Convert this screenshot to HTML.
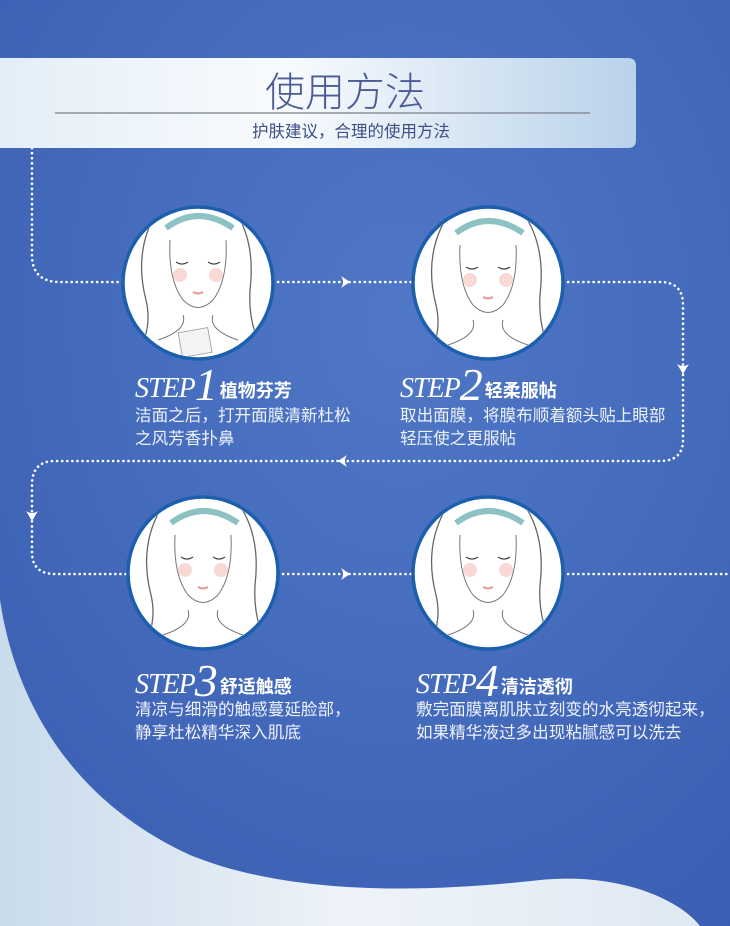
<!DOCTYPE html>
<html><head><meta charset="utf-8"><style>
html,body{margin:0;padding:0;width:730px;height:926px;overflow:hidden}
body{position:relative;font-family:"Liberation Sans","Noto Sans CJK SC",sans-serif}
.t{position:absolute;color:#fff;white-space:nowrap}
.step{font-family:"Liberation Serif",serif;font-style:italic;font-size:28px;letter-spacing:-1px}
.step b{font-size:46px;font-weight:normal;vertical-align:-3px}
.h{font-family:"Liberation Sans","Noto Sans CJK SC",sans-serif;font-style:normal;font-weight:bold;font-size:18px;letter-spacing:0;margin-left:3px}
.body{font-size:16.6px;line-height:23px;color:#eef2fb}
</style></head><body>
<svg width="730" height="926" style="position:absolute;left:0;top:0">
<defs>
<radialGradient id="bg" cx="0.55" cy="0.35" r="0.8">
<stop offset="0" stop-color="#5078c6"/><stop offset="1" stop-color="#3a5eb2"/></radialGradient>
<linearGradient id="ban" x1="0" x2="1" y1="0" y2="0">
<stop offset="0" stop-color="#e4eef7"/><stop offset="0.45" stop-color="#f8fbfd"/><stop offset="1" stop-color="#b9d2ea"/></linearGradient>
<linearGradient id="wv" x1="0" x2="1" y1="0" y2="0">
<stop offset="0" stop-color="#c9dbec"/><stop offset="0.5" stop-color="#eef3f8"/><stop offset="1" stop-color="#dfe9f3"/></linearGradient>
<clipPath id="c1"><ellipse cx="198" cy="283" rx="73" ry="74"/></clipPath>
<clipPath id="c2"><ellipse cx="488" cy="283" rx="73" ry="74"/></clipPath>
<clipPath id="c3"><ellipse cx="203" cy="573" rx="73" ry="74"/></clipPath>
<clipPath id="c4"><ellipse cx="488" cy="573" rx="73" ry="74"/></clipPath>
<g id="face">
<path d="M-40 -60 Q-5 -95 35 -62 Q58 -30 52 20 Q50 55 65 80 M-40 -60 Q-65 -20 -52 30 Q-45 60 -62 85" fill="none" stroke="#666" stroke-width="1.3"/>
<path d="M-32 -42 Q0 -66 35 -42" fill="none" stroke="#8cc2c4" stroke-width="6"/>
<path d="M-28 -30 Q-30 10 -15 30 Q0 45 15 30 Q30 10 28 -30" fill="none" stroke="#777" stroke-width="1"/>
<path d="M-22 -8 q6 4 12 0 M10 -8 q6 4 12 0" stroke="#444" stroke-width="1.3" fill="none"/>
<circle cx="-18" cy="5" r="7" fill="#f6c9c4" opacity=".7"/><circle cx="18" cy="5" r="7" fill="#f6c9c4" opacity=".7"/>
<path d="M-5 22 q5 3 10 0" stroke="#e39a94" stroke-width="2" fill="none"/>
<path d="M-15 45 Q-10 60 -40 70 M15 45 Q10 60 40 70" fill="none" stroke="#777" stroke-width="1"/>
</g>
</defs>
<rect width="730" height="926" fill="url(#bg)"/>
<path d="M0 600 C15 700 70 800 190 855 C300 900 450 890 540 880 C620 872 680 900 700 926 L0 926Z" fill="url(#wv)"/>
<path d="M0 58 H628 Q636 58 636 66 V140 Q636 148 628 148 H0Z" fill="url(#ban)"/>
<line x1="55" y1="113" x2="590" y2="113" stroke="#7a7f8c" stroke-width="1.2"/>
<g fill="none" stroke="#fff" stroke-width="2.6" stroke-dasharray="0.1 5" stroke-linecap="round">
<path d="M32 148 V255 Q32 282 60 282 H123"/>
<path d="M273 282 H413"/>
<path d="M563 282 H660 Q683 282 683 305 V440 Q683 461 660 461 H55 Q32 461 32 485 V552 Q32 574 55 574 H128"/>
<path d="M278 574 H413"/>
<path d="M563 574 H730"/>
</g>
<g fill="#fff">
<path d="M341 276 L350 282 L341 288 Q345 282 341 276Z"/>
<path d="M677 364 L683 374 L689 364 Q683 368 677 364Z"/>
<path d="M347 455 L338 461 L347 467 Q343 461 347 455Z"/>
<path d="M26 511 L32 521 L38 511 Q32 515 26 511Z"/>
<path d="M341 568 L350 574 L341 580 Q345 574 341 568Z"/>
</g>
<g stroke="#1b5fae" stroke-width="3.5" fill="#fff">
<ellipse cx="198" cy="283" rx="75" ry="76"/>
<ellipse cx="488" cy="283" rx="75" ry="76"/>
<ellipse cx="203" cy="573" rx="75" ry="76"/>
<ellipse cx="488" cy="573" rx="75" ry="76"/>
</g>
<g clip-path="url(#c1)"><use href="#face" x="198" y="270"/>
<rect x="180" y="330" width="30" height="25" fill="#f4f4f4" stroke="#999" stroke-width="0.8" transform="rotate(-10 195 342)"/></g>
<g clip-path="url(#c2)"><use href="#face" x="488" y="275"/></g>
<g clip-path="url(#c3)"><use href="#face" x="203" y="565"/></g>
<g clip-path="url(#c4)"><use href="#face" x="488" y="565"/></g>
</svg>
<div class="t" style="left:0;width:690px;text-align:center;top:60px;font-size:40px;color:#4a5b98;font-family:'Liberation Sans','Noto Sans CJK SC',sans-serif;font-weight:300">使用方法</div>
<div class="t" style="left:0;width:702px;text-align:center;top:118px;font-size:16.5px;color:#3d4f86">护肤建议，合理的使用方法</div>

<div class="t step" style="left:135px;top:358px">STEP<b>1</b><span class="h">植物芬芳</span></div>
<div class="t body" style="left:135px;top:404px">洁面之后，打开面膜清新杜松<br>之风芳香扑鼻</div>
<div class="t step" style="left:400px;top:358px">STEP<b>2</b><span class="h">轻柔服帖</span></div>
<div class="t body" style="left:400px;top:404px">取出面膜，将膜布顺着额头贴上眼部<br>轻压使之更服帖</div>
<div class="t step" style="left:135px;top:654px">STEP<b>3</b><span class="h">舒适触感</span></div>
<div class="t body" style="left:135px;top:698px">清凉与细滑的触感蔓延脸部，<br>静享杜松精华深入肌底</div>
<div class="t step" style="left:416px;top:654px">STEP<b>4</b><span class="h">清洁透彻</span></div>
<div class="t body" style="left:416px;top:698px">敷完面膜离肌肤立刻变的水亮透彻起来，<br>如果精华液过多出现粘腻感可以洗去</div>
</body></html>
